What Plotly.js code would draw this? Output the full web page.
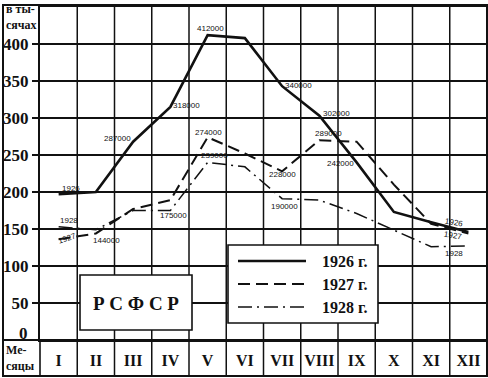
<!DOCTYPE html>
<html><head><meta charset="utf-8">
<script src="https://cdn.plot.ly/plotly-3.0.1.min.js"></script>
<style>html,body{margin:0;padding:0;background:#fff}</style>
</head><body><div id="chart" style="width:488px;height:378px"></div>
<script>
// ---- data ----
const months = ['I','II','III','IV','V','VI','VII','VIII','IX','X','XI','XII'];
const v1926 = [197, 200, 268, 315, 412, 408, 343, 303, 240, 173, 159, 146];
const v1927 = [136, 144, 177, 189, 274, 252, 228, 270, 268, 210, 157, 144];
const v1928 = [153, 149, 175, 175, 240, 234, 191, 189, 171, 148, 126, 127];
const seriesNames = ['1926 г.', '1927 г.', '1928 г.'];
const yTicks = [50, 100, 150, 200, 250, 300, 350, 400];
const pointLabels = ['412000','318000','287000','1926','274000','239000','340000','302000','289000','242000','228000','190000','175000','144000','1928','1927','1926','1927','1928'];

// ---- layout helpers (pixel -> paper) ----
const L = 40, T = 7, W = 447, H = 333;
const px = x => (x - L) / W;
const py = y => (T + H - y) / H;
const serif = {family: 'Liberation Serif, DejaVu Serif, serif', color: '#111', weight: 'bold'};

const dashes = ['solid', '12px,6px', '14px,5px,2px,5px'];
const widths = [2.6, 2.0, 1.5];
const data = [v1926, v1927, v1928].map((v, i) => ({
  type: 'scatter', mode: 'lines', x: months, y: v, name: seriesNames[i],
  line: {color: '#111', width: widths[i], dash: dashes[i]}, showlegend: false, hoverinfo: 'skip'
}));

const shapes = [];
// vertical grid through plot and month row
for (let k = 1; k < 12; k++) {
  shapes.push({type: 'line', xref: 'paper', yref: 'paper', x0: k / 12, x1: k / 12, y0: py(376), y1: 1,
    line: {color: '#111', width: 1.5}, layer: 'below'});
}
shapes.push({type: 'line', xref: 'paper', yref: 'paper', x0: 0, x1: 0, y0: py(376), y1: 0, line: {color: '#111', width: 1.6}});
// month row top line extended left
shapes.push({type: 'line', xref: 'paper', yref: 'paper', x0: px(3), x1: 1, y0: 0, y1: 0, line: {color: '#111', width: 2}});
// outer frame
shapes.push({type: 'rect', xref: 'paper', yref: 'paper', x0: px(3), x1: 1, y0: py(376), y1: py(5),
  line: {color: '#111', width: 2}});
// РСФСР box
shapes.push({type: 'rect', xref: 'paper', yref: 'paper', x0: px(80), x1: px(192), y0: py(330), y1: py(275),
  fillcolor: '#fff', line: {color: '#111', width: 1.6}, layer: 'above'});
// legend box
shapes.push({type: 'rect', xref: 'paper', yref: 'paper', x0: px(228), x1: px(378), y0: py(323), y1: py(245),
  fillcolor: '#fff', line: {color: '#111', width: 1.6}, layer: 'above'});
const legY = [261, 284, 307];
legY.forEach((y, i) => shapes.push({type: 'line', xref: 'paper', yref: 'paper', x0: px(238), x1: px(306), y0: py(y), y1: py(y),
  line: {color: '#111', width: widths[i], dash: dashes[i]}, layer: 'above'}));

const annotations = [];
const ann = (text, x, y, opts) => annotations.push(Object.assign({text, xref: 'paper', yref: 'paper', x: px(x), y: py(y),
  showarrow: false, xanchor: 'center', yanchor: 'middle'}, opts || {}));
seriesNames.forEach((n, i) => ann(n, 344, legY[i], {font: Object.assign({size: 16}, serif)}));
ann('Р С Ф С Р', 136, 303, {font: Object.assign({size: 19}, serif)});
ann('0', 30, 333, {xanchor: 'right', font: Object.assign({size: 17}, serif)});
ann('в ты-<br>сячах', 4, 17, {xanchor: 'left', font: Object.assign({size: 12}, serif), align: 'left'});
ann('Ме-<br>сяцы', 4, 358, {xanchor: 'left', font: Object.assign({size: 12}, serif), align: 'left'});

const labPos = [[210,29],[186,106],[117,138],[71,188],[208,132],[214,155],[298,85],[336,113],[328,133],[340,163],
  [282,175],[284,206],[173,215],[106,240],[69,221],[67,238],[454,222],[453,235],[454,253]];
const labRot = [0,0,0,0,0,0,0,0,0,0,0,0,0,0,0,-18,10,10,0];
const small = {family: 'Liberation Sans, Arial, sans-serif', size: 8, color: '#111'};
pointLabels.forEach((t, i) => ann(t, labPos[i][0], labPos[i][1], {font: small, textangle: labRot[i]}));

const layout = {
  width: 488, height: 378,
  margin: {l: L, r: 1, t: T, b: 38, pad: 0},
  paper_bgcolor: '#fff', plot_bgcolor: '#fff',
  showlegend: false,
  xaxis: {type: 'category', range: [-0.5, 11.5], showgrid: false, zeroline: false,
    showline: true, mirror: true, linecolor: '#111', linewidth: 2, ticks: '',
    tickvals: months, ticktext: months, ticklabelstandoff: 5,
    tickfont: Object.assign({size: 16}, serif)},
  yaxis: {range: [0, 450], tickvals: yTicks, ticktext: yTicks.map(String),
    showgrid: true, gridcolor: '#111', gridwidth: 1.5, zeroline: false,
    showline: true, mirror: true, linecolor: '#111', linewidth: 2,
    ticks: 'outside', ticklen: 6, tickwidth: 1.5, tickcolor: '#111',
    tickfont: Object.assign({size: 17}, serif)},
  shapes, annotations
};
Plotly.newPlot('chart', data, layout, {staticPlot: true, displayModeBar: false});
</script></body></html>
